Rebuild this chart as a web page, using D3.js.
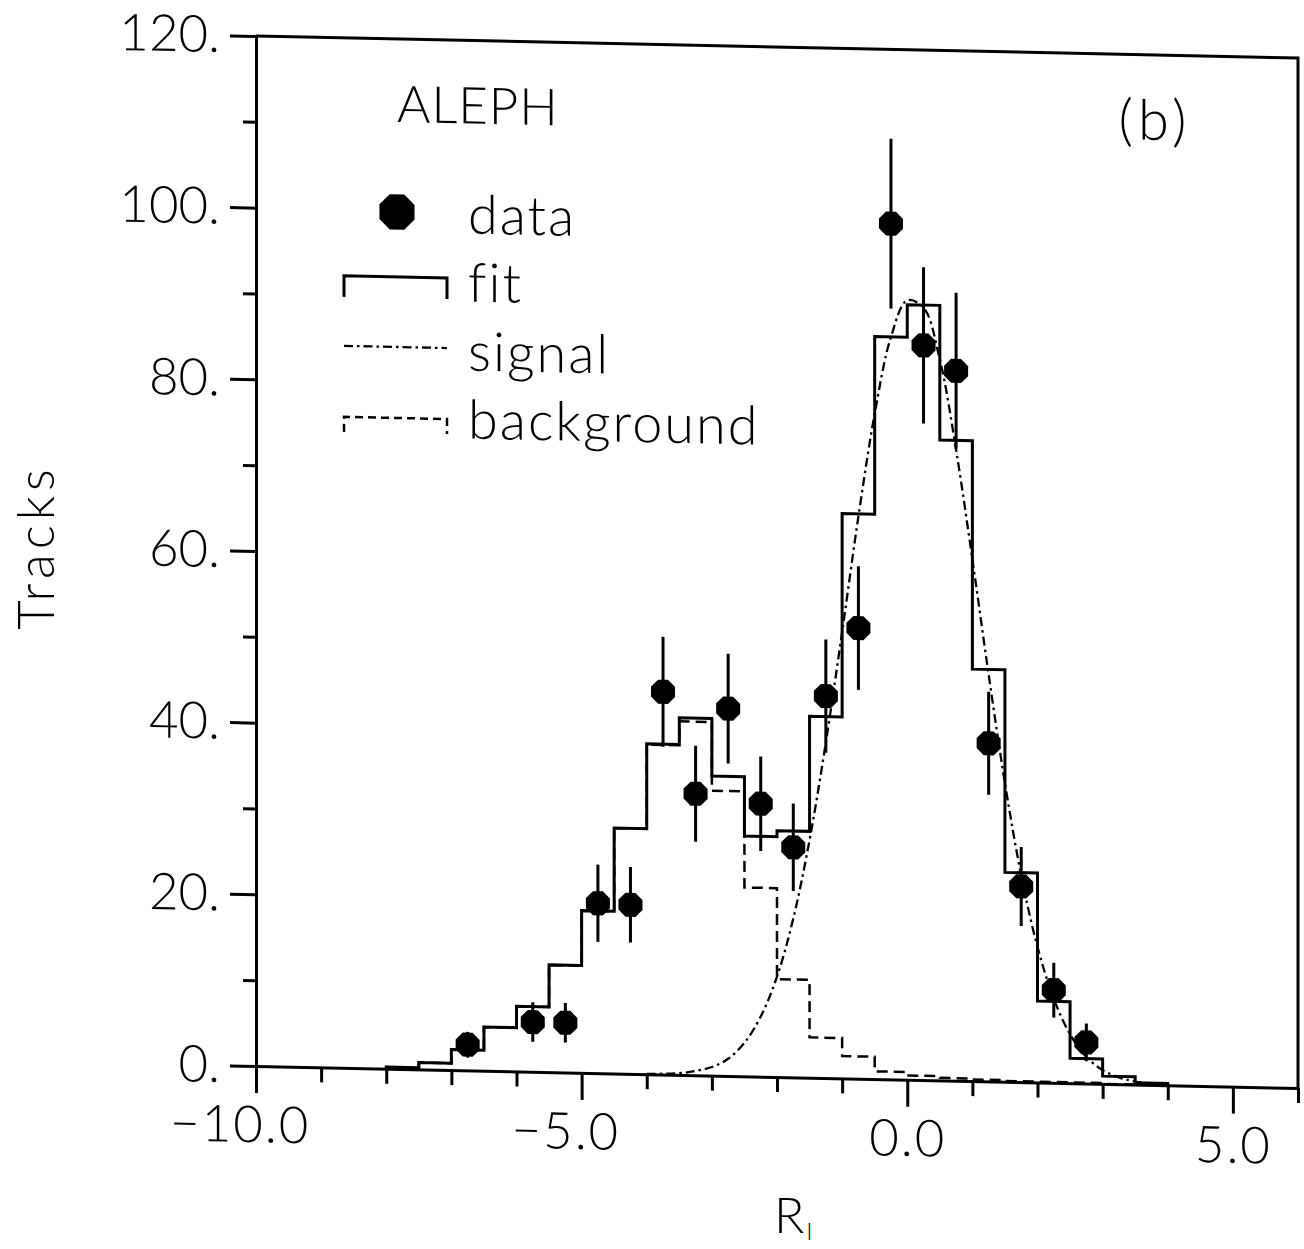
<!DOCTYPE html>
<html>
<head>
<meta charset="utf-8">
<script src="https://cdn.jsdelivr.net/npm/d3@7"></script>
<style>
body { margin: 0; background: #fff; }
svg text { font-family: Lato, "DejaVu Sans", sans-serif; font-weight: 300; fill: #000; }
</style>
</head>
<body>
<div class="canva"></div>
<script>
// values (b)
const dataX   = [-6.75, -5.75, -5.25, -4.75, -4.25, -3.75, -3.25, -2.75, -2.25, -1.75, -1.25, -0.75, -0.25, 0.25, 0.75, 1.25, 1.75, 2.25, 2.75];
const dataY   = [3.0, 5.8, 5.8, 19.8, 19.7, 44.6, 32.8, 42.8, 31.8, 26.8, 44.5, 52.5, 99.7, 85.6, 82.7, 39.4, 22.8, 10.8, 4.8];
const dataErr = [1.5, 2.3, 2.3, 4.5, 4.4, 6.4, 5.6, 6.4, 5.5, 5.1, 6.6, 7.2, 9.9, 9.1, 9.1, 6.0, 4.6, 3.2, 2.2];

const binStart = [-8, -7.5, -7, -6.5, -6, -5.5, -5, -4.5, -4, -3.5, -3, -2.5, -2, -1.5, -1, -0.5, 0, 0.5, 1, 1.5, 2, 2.5, 3, 3.5];
const fitY     = [0.2, 0.8, 2.4, 5.1, 7.6, 12.5, 18.9, 28.6, 38.5, 41.6, 34.9, 28.0, 28.7, 42.1, 65.8, 86.5, 90.3, 74.6, 48.0, 24.4, 9.5, 2.9, 0.9, 0.2];
const bkgY     = [0.2, 0.8, 2.4, 5.1, 7.6, 12.5, 18.9, 28.6, 38.4, 41.2, 33.2, 22.0, 11.4, 4.7, 2.6, 0.9, 0.5, 0.3, 0.2, 0.1, 0.1, 0.1, 0.0, 0.0];
const binEnd = 4;

const sigX = [-4, -3.5, -3.25, -3, -2.75, -2.5, -2.25, -2, -1.75, -1.5, -1.25, -1, -0.75, -0.5, -0.25, 0, 0.25, 0.5, 0.75, 1, 1.25, 1.5, 1.75, 2, 2.25, 2.5, 2.75, 3, 3.25, 3.5, 4];
const sigY = [0.05, 0.2, 0.5, 1.0, 2.0, 3.9, 7.0, 11.7, 18.5, 27.7, 39.1, 52.0, 65.5, 77.5, 86.5, 90.8, 90.0, 84.0, 73.5, 60.8, 47.4, 34.8, 24.1, 15.8, 9.8, 5.7, 3.1, 1.6, 0.8, 0.35, 0.05];

const xMajor = [-10, -5, 0, 5];
const xMinor = [-9, -8, -7, -6, -4, -3, -2, -1, 1, 2, 3, 4, 6];
const yMajor = [0, 20, 40, 60, 80, 100, 120];
const yMinor = [10, 30, 50, 70, 90, 110];

const legendNames = ["data", "fit", "signal", "background"];

const W = 1304, H = 1249;
const svg = d3.select(".canva").append("svg")
    .attr("width", W)
    .attr("height", H);

const x = d3.scaleLinear().domain([-10, 6]).range([256, 1298]);
const y = d3.scaleLinear().domain([0, 120]).range([1066, 36]);

// the scan is slightly sheared: horizontals drop ~22px across the frame
const skew = Math.atan(22 / 1042) * 180 / Math.PI;
const g = svg.append("g")
    .attr("transform", "translate(256,0) skewY(" + skew + ") translate(-256,0)");

// axes
g.append("g").attr("transform", "translate(256,0)")
    .call(d3.axisLeft(y).tickValues(yMajor).tickSize(26).tickPadding(10).tickSizeOuter(0)
        .tickFormat(d => d + "."));
g.append("g").attr("transform", "translate(256,0)")
    .call(d3.axisLeft(y).tickValues(yMinor).tickSize(13).tickFormat(""))
    .call(a => a.select(".domain").remove());

const xAx = g.append("g").attr("transform", "translate(0,1066)")
    .call(d3.axisBottom(x).tickValues(xMajor).tickSize(27).tickPadding(13).tickSizeOuter(0)
        .tickFormat(d3.format(".1f")));
g.append("g").attr("transform", "translate(0,1066)")
    .call(d3.axisBottom(x).tickValues(xMinor).tickSize(15).tickFormat(""))
    .call(a => a.select(".domain").remove());

g.selectAll(".tick line, .domain").attr("stroke", "#000").attr("stroke-width", 3);
g.selectAll(".tick text").attr("font-size", 51).attr("fill", "#000");
xAx.selectAll("text").attr("letter-spacing", 2);
xAx.selectAll("text").filter(d => d < 0).attr("dx", "-0.32em");

// frame top + right
g.append("path")
    .attr("d", "M" + x(-10) + "," + y(120) + "H" + x(6) + "V" + y(0))
    .attr("fill", "none").attr("stroke", "#000").attr("stroke-width", 3);

// histograms
function stepPts(vals) {
    const pts = [[binStart[0], 0]];
    vals.forEach((v, i) => pts.push([binStart[i], v]));
    pts.push([binEnd, vals[vals.length - 1]]);
    pts.push([binEnd, 0]);
    return pts;
}
const step = d3.line().x(d => x(d[0])).y(d => y(d[1])).curve(d3.curveStepAfter);

g.append("path")
    .attr("d", step(stepPts(bkgY)))
    .attr("fill", "none").attr("stroke", "#000").attr("stroke-width", 2.5)
    .attr("stroke-dasharray", "11,6");

g.append("path")
    .attr("d", step(stepPts(fitY)))
    .attr("fill", "none").attr("stroke", "#000").attr("stroke-width", 3);

const sigLine = d3.line().x((d, i) => x(sigX[i])).y(d => y(d)).curve(d3.curveCatmullRom);
g.append("path")
    .attr("d", sigLine(sigY))
    .attr("fill", "none").attr("stroke", "#000").attr("stroke-width", 2.3)
    .attr("stroke-dasharray", "9,4,2.5,4");

// data points
function octagon(r) {
    const p = d3.path();
    for (let k = 0; k < 8; k++) {
        const a = Math.PI / 8 + k * Math.PI / 4;
        if (k === 0) p.moveTo(r * Math.cos(a), r * Math.sin(a));
        else p.lineTo(r * Math.cos(a), r * Math.sin(a));
    }
    p.closePath();
    return p.toString();
}

const pts = g.append("g").selectAll("g")
    .data(dataX.map((d, i) => ({ x: d, y: dataY[i], e: dataErr[i] })))
    .enter().append("g");
pts.append("line")
    .attr("x1", d => x(d.x)).attr("x2", d => x(d.x))
    .attr("y1", d => y(d.y + d.e)).attr("y2", d => y(d.y - d.e))
    .attr("stroke", "#000").attr("stroke-width", 3);
pts.append("path")
    .attr("d", octagon(13))
    .attr("transform", d => "translate(" + x(d.x) + "," + y(d.y) + ")")
    .attr("fill", "#000");

// labels inside the frame
g.append("text").attr("x", 397).attr("y", 119).attr("font-size", 51).attr("letter-spacing", 1).text("ALEPH");
g.append("text").attr("x", 1155).attr("y", 121).attr("font-size", 56)
    .attr("letter-spacing", 5)
    .attr("text-anchor", "middle").text("(b)");

// legend
const legY = [229, 297, 366, 434];
const leg = g.append("g");
leg.append("path").attr("d", octagon(19))
    .attr("transform", "translate(397," + (legY[0] - 20) + ")").attr("fill", "#000");
leg.append("path")
    .attr("d", "M344," + (legY[1] - 2) + "V" + (legY[1] - 23) + "H447V" + (legY[1] - 2))
    .attr("fill", "none").attr("stroke", "#000").attr("stroke-width", 3);
leg.append("path")
    .attr("d", "M344," + (legY[2] - 22) + "H447")
    .attr("fill", "none").attr("stroke", "#000").attr("stroke-width", 2.3)
    .attr("stroke-dasharray", "9,4,2.5,4");
leg.append("path")
    .attr("d", "M344," + (legY[3] - 4) + "V" + (legY[3] - 19) + "H447V" + (legY[3] - 4))
    .attr("fill", "none").attr("stroke", "#000").attr("stroke-width", 2.5)
    .attr("stroke-dasharray", "8,5");
leg.selectAll("text").data(legendNames).enter().append("text")
    .attr("x", 468).attr("y", (d, i) => legY[i])
    .attr("font-size", 54)
    .attr("letter-spacing", 2)
    .text(d => d);

// axis titles
svg.append("text")
    .attr("transform", "translate(54,547) rotate(-90)")
    .attr("text-anchor", "middle").attr("font-size", 51)
    .attr("letter-spacing", 5)
    .text("Tracks");
const xt = svg.append("text").attr("x", 774).attr("y", 1233).attr("font-size", 50);
xt.append("tspan").text("R");
xt.append("tspan").attr("font-size", 24).attr("dy", 7).attr("dx", 2).text("I");
</script>
</body>
</html>
